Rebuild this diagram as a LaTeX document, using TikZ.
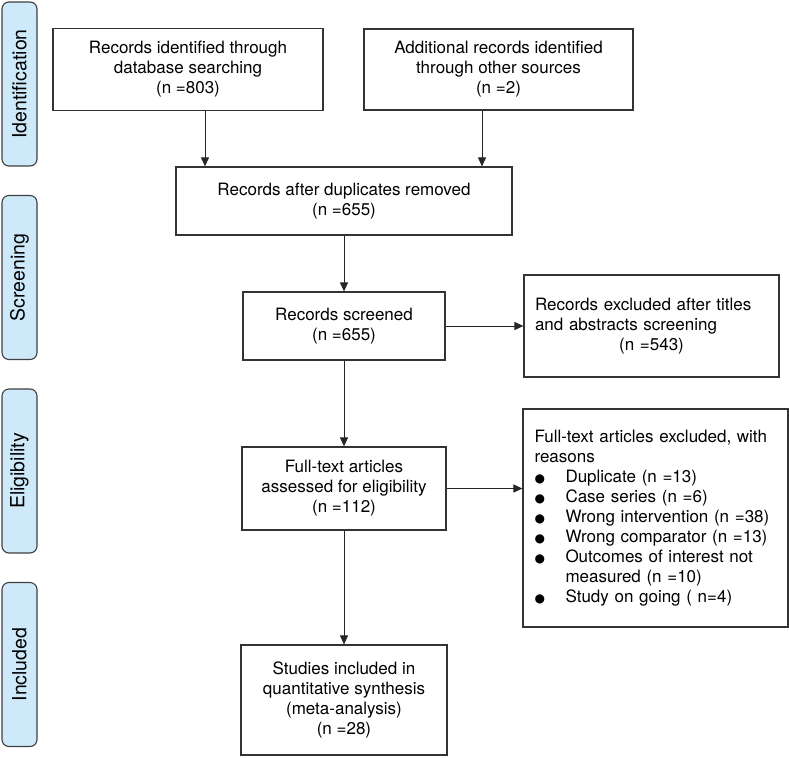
\documentclass[tikz,border=0pt]{standalone}
\usepackage{fontspec}
\setmainfont{TeX Gyre Heros}
\newfontfamily\dotfont{DejaVu Sans}
\usetikzlibrary{arrows.meta}
\definecolor{stagebg}{RGB}{206,233,249}
\newcommand{\dotitem}{\makebox[31pt][l]{{\dotfont\fontsize{12}{20}\selectfont ●}}}

\begin{document}
\begin{tikzpicture}[x=1pt,y=-1pt,
  box/.style={draw=black!80,line width=1.2pt,align=center,inner sep=0pt,font=\fontsize{17}{20}\selectfont},
  stage/.style={draw=black!75,line width=1.1pt,fill=stagebg,rounded corners=7pt,rotate=90,minimum width=164pt,minimum height=35pt,inner sep=0pt,font=\fontsize{19.5}{22}\selectfont},
  arr/.style={-{Triangle[length=9pt,width=8pt]},line width=1pt,draw=black!85}]
\useasboundingbox (0,0) rectangle (789,757);
\node[stage] (lblId) at (19.5,84) {Identification};
\node[stage] (lblScr) at (19.5,277.5) {Screening};
\node[stage] (lblEli) at (19.5,471) {Eligibility};
\node[stage] (lblInc) at (19.5,664.5) {Included};
\node[box,minimum width=270pt,minimum height=82pt] (rid) at (188,69.5) {Records identified through\\database searching\\(n =803)};
\node[box,minimum width=269pt,minimum height=81pt] (ras) at (498.5,69.5) {Additional records identified\\through other sources\\(n =2)};
\node[box,minimum width=336pt,minimum height=68pt] (dup) at (344,201) {Records after duplicates removed\\(n =655)};
\node[box,minimum width=202pt,minimum height=68pt] (scr) at (344,326) {Records screened\\(n =655)};
\node[box,align=left,text width=233pt,minimum width=255pt,minimum height=102pt] (exc) at (651.5,326) {Records excluded after titles\\and abstracts screening\\\makebox[\linewidth]{(n =543)}\par\vspace*{16pt}};
\node[box,minimum width=204pt,minimum height=83pt] (full) at (344,488.5) {Full-text articles\\assessed for eligibility\\(n =112)};
\node[box,align=left,text width=242pt,minimum width=265pt,minimum height=218pt] (fexc) at (655.5,518) {Full-text articles excluded, with\\reasons\\\dotitem Duplicate (n =13)\\\dotitem Case series (n =6)\\\dotitem Wrong intervention (n =38)\\\dotitem Wrong comparator (n =13)\\\dotitem Outcomes of interest not\\\hspace*{31pt}measured (n =10)\\\dotitem Study on going ( n=4)\par\vspace*{11pt}};
\node[box,minimum width=206pt,minimum height=110pt] (incl) at (344,700) {Studies included in\\quantitative synthesis\\(meta-analysis)\\(n =28)};
\draw[arr] ([xshift=17pt]rid.south) -- ([xshift=17pt]rid.south |- dup.north);
\draw[arr] ([xshift=-16.5pt]ras.south) -- ([xshift=-16.5pt]ras.south |- dup.north);
\draw[arr] (dup) -- (scr);
\draw[arr] (scr) -- (exc.west |- scr);
\draw[arr] (scr) -- (full);
\draw[arr] (full) -- (fexc.west |- full);
\draw[arr] (full) -- (incl);
\end{tikzpicture}
\end{document}
